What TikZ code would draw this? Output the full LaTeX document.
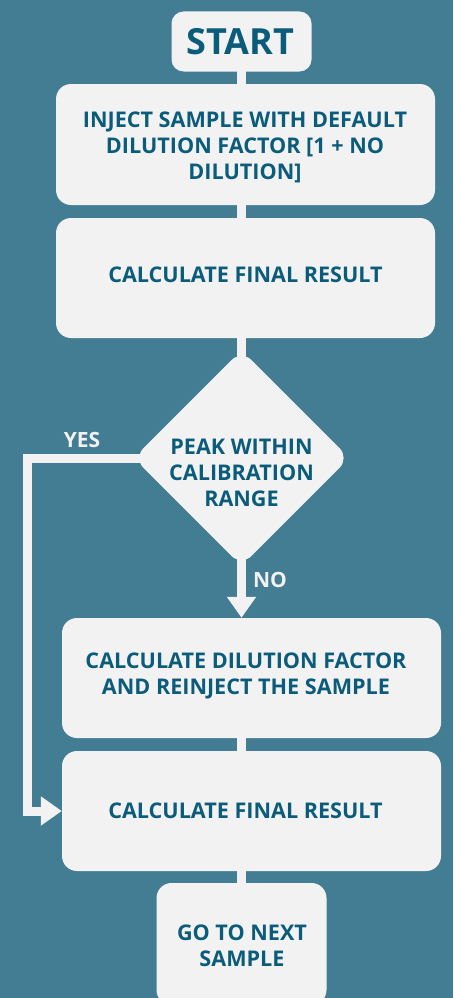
\documentclass[tikz,border=0pt]{standalone}
\usepackage{fontspec}
\setmainfont{Open Sans}
\usetikzlibrary{shapes.geometric,arrows.meta}
\definecolor{bgc}{HTML}{427D93}
\definecolor{boxc}{HTML}{F2F2F2}
\definecolor{txt}{HTML}{0B5B7B}
\pgfdeclarelayer{bglayer}
\pgfdeclarelayer{backlayer}
\pgfsetlayers{bglayer,backlayer,main}
\tikzset{
  box/.style={fill=boxc, rounded corners=15pt, inner sep=0pt},
  btext/.style={text=txt, font=\bfseries\fontsize{21.6}{26}\selectfont, align=center, inner sep=0pt},
  conn/.style={draw=boxc, line width=9pt, line join=miter},
  arr/.style={conn, -{Triangle[length=21pt,width=28pt]}},
  lbl/.style={text=boxc, font=\bfseries\fontsize{21}{25}\selectfont, inner sep=0pt}
}
\begin{document}
\begin{tikzpicture}[x=1pt,y=-1pt]
\useasboundingbox (0,0) rectangle (453,998);
\begin{pgfonlayer}{bglayer}
\fill[bgc] (0,0) rectangle (453,998);
\end{pgfonlayer}
\clip (0,0) rectangle (453,998);
% shapes
\node[box, rounded corners=12pt, minimum width=140pt, minimum height=60pt] (start) at (241.5,41.5) {};
\node[box, minimum width=379pt, minimum height=121pt] (inject) at (245.5,144.5) {};
\node[box, minimum width=379pt, minimum height=120pt] (calc1) at (245.5,278) {};
\node[diamond, fill=boxc, rounded corners=14pt, minimum width=216pt, minimum height=216pt,
  aspect=1, inner sep=0pt] (dec) at (241.5,458) {};
\node[box, minimum width=379pt, minimum height=120pt] (dil) at (251.5,678) {};
\node[box, minimum width=379pt, minimum height=120pt] (final2) at (251.5,811) {};
\node[box, minimum width=170pt, minimum height=122pt] (next) at (241.5,944) {};
% texts
\node[btext, font=\bfseries\fontsize{36}{40}\selectfont] (startt) at (240.5,41.5) {START};
\node[btext] (injectt) at (245,147.5) {INJECT SAMPLE WITH DEFAULT\\DILUTION FACTOR [1 + NO\\DILUTION]};
\node[btext] (calc1t) at (245.5,275) {CALCULATE FINAL RESULT};
\node[btext] (dect) at (241.5,472.5) {PEAK WITHIN\\CALIBRATION\\RANGE};
\node[btext] (dilt) at (246,676) {CALCULATE DILUTION FACTOR\\AND REINJECT THE SAMPLE};
\node[btext] (final2t) at (245.5,810.5) {CALCULATE FINAL RESULT};
\node[btext] (nextt) at (242,945.5) {GO TO NEXT\\SAMPLE};
\node[lbl] (yes) at (82,440) {YES};
\node[lbl] (no) at (270,580) {NO};
\coordinate (yc) at (27,458);
% connectors
\begin{pgfonlayer}{backlayer}
\draw[conn] (start.center) -- (start.center |- inject.center);
\draw[conn] (start.center |- inject.center) -- (start.center |- calc1.center);
\draw[conn] (start.center |- calc1.center) -- (dec.center);
\draw[arr] (dec.center) -- (dec.center |- dil.north);
\draw[conn] (dec.center |- dil.center) -- (dec.center |- final2.center);
\draw[conn] (dec.center |- final2.center) -- (next.center);
\draw[arr] (dec.center) -- (yc) |- (final2.west);
\end{pgfonlayer}
\end{tikzpicture}
\end{document}
